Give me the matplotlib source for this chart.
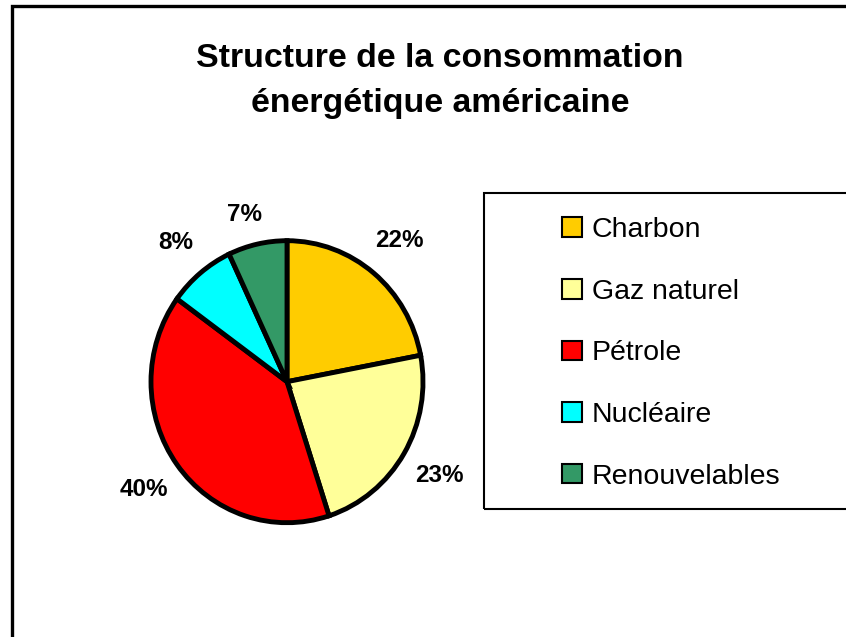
"""Pie chart: structure de la consommation energetique americaine
"""
import matplotlib as mpl
import matplotlib.pyplot as plt
from matplotlib.patches import Rectangle

# data
categories = ['Charbon', 'Gaz naturel', 'Pétrole', 'Nucléaire', 'Renouvelables']
shares = [22, 23, 40, 8, 7]
pct_labels = ['22%', '23%', '40%', '8%', '7%']
colors = ['#FFCC00', '#FFFF99', '#FF0000', '#00FFFF', '#339966']

# configuration
plt.rcParams['font.family'] = ['Liberation Sans', 'DejaVu Sans']

W, H = 846, 637
fig = plt.figure(figsize=(W / 100, H / 100), dpi=100)


def px_box(left, top, right, bottom):
    """pixel box -> figure fraction [x0, y0, w, h]"""
    return [left / W, 1 - bottom / H, (right - left) / W, (bottom - top) / H]


# outer frame (runs off the right and bottom edges)
fig.add_artist(Rectangle((11.5 / W, -0.1), 1.2, 1.1 - 6.5 / H,
                         transform=fig.transFigure, fill=False,
                         edgecolor='black', lw=2.4))

# title
fig.text(440 / W, 1 - 81 / H, 'Structure de la consommation\nénergétique américaine',
         ha='center', va='center', fontsize=24.4, fontweight='bold',
         linespacing=1.62)

# pie (slightly taller than wide, as in the original)
cx, cy, rx, ry = 287, 381.7, 136, 141
ax = fig.add_axes(px_box(cx - rx, cy - ry, cx + rx, cy + ry))
wedges, texts = ax.pie(shares, colors=colors, startangle=90, counterclock=False,
                       labels=pct_labels, labeldistance=1.3,
                       wedgeprops=dict(edgecolor='black', linewidth=3.5),
                       textprops=dict(fontsize=17.5, fontweight='bold'))
ax.set_aspect('auto')
ax.set_xlim(-1, 1)
ax.set_ylim(-1, 1)
for t in texts:
    t.set_ha('center')
    t.set_va('center')
# small slices: labels pushed left like the spreadsheet did
texts[3].set_position((-0.816, 0.984))
texts[4].set_position((-0.309, 1.189))

# legend box (runs off the right edge)
fig.add_artist(Rectangle((483.5 / W, 1 - 509 / H), 0.6, (509 - 193) / H,
                         transform=fig.transFigure, fill=False,
                         edgecolor='black', lw=1.5))
leg = fig.legend(wedges, categories, loc='upper left',
                 bbox_to_anchor=(548 / W, 1 - 203 / H), frameon=False,
                 fontsize=20.5, handlelength=0.68, handleheight=0.68,
                 handletextpad=0.35, labelspacing=1.25, borderpad=0)
for h in leg.legend_handles:
    h.set_linewidth(1.5)

fig.savefig('out.png', dpi=100)
